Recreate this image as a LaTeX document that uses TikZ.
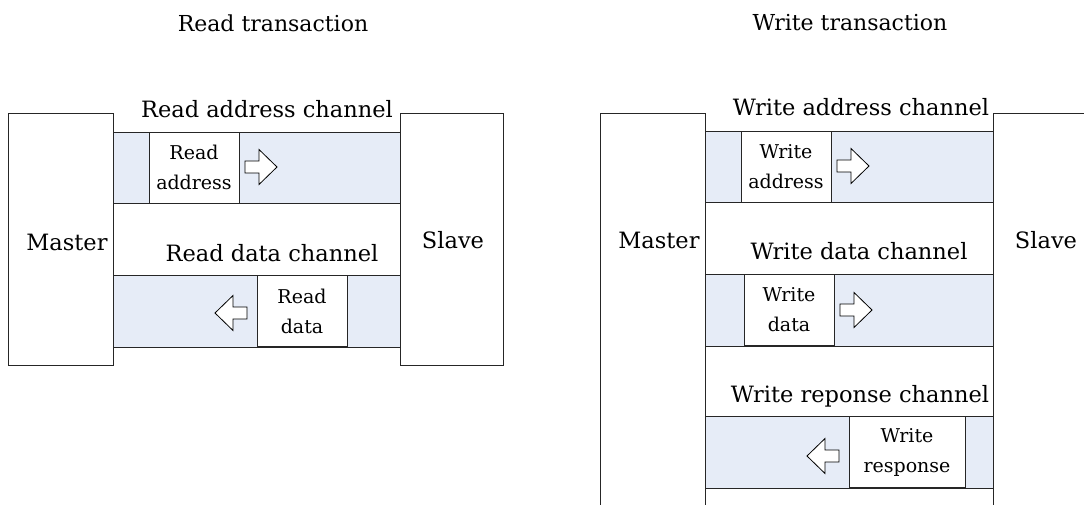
\documentclass[tikz,border=0pt]{standalone}
\usepackage{fontspec}
\setmainfont{DejaVu Serif}
\usetikzlibrary{positioning}
\definecolor{chanfill}{HTML}{E6ECF7}
\tikzset{
  box/.style={draw=black!85, line width=0.8pt},
  band/.style={draw=black!85, line width=0.8pt, fill=chanfill},
  item/.style={draw=black!85, line width=0.8pt, fill=white, align=center,
    font=\fontsize{19}{30}\selectfont, inner sep=0pt,
    minimum width=90pt, minimum height=71pt},
  chan/.style={font=\fontsize{22.5}{26}\selectfont, inner sep=0pt},
  title/.style={font=\fontsize{22}{26}\selectfont, inner sep=0pt},
  blockarrow/.pic={\draw[line width=0.8pt, fill=white] (-16,-6) -- (-2,-6) -- (-2,-17.5)
    -- (16,0) -- (-2,17.5) -- (-2,6) -- (-16,6) -- cycle;}
}

\begin{document}
\begin{tikzpicture}[x=1pt, y=-1pt]
  \useasboundingbox (0,0) rectangle (1084,505);
  \clip (0,0) rectangle (1084,505);

  %%%%% READ %%%%%
  \node[title] (rtitle) at (273,23) {Read transaction};

  \draw[box] (8,113) rectangle (113,365);
  \draw[box] (400,113) rectangle (503,365);
  \node[chan] (rmaster) at (67,242) {Master};
  \node[chan] (rslave) at (453,240) {Slave};

  \draw[band] (113,132) rectangle (400,203);
  \node[item] (raddr) at (194,167.5) {Read\\address};
  \pic (rarr1) at (261,167) {blockarrow};
  \node[chan] (rachan) at (267,109) {Read address channel};

  \draw[band] (113,275) rectangle (400,347);
  \node[item] (rdata) at (302,311) {Read\\data};
  \pic[rotate=180] (rarr2) at (231,313) {blockarrow};
  \node[chan] (rdchan) at (272,253) {Read data channel};

  %%%%% WRITE %%%%%
  \node[title] (wtitle) at (850,23) {Write transaction};

  \draw[box] (600,113) rectangle (705,560);
  \draw[box] (993,113) rectangle (1120,560);
  \node[chan] (wmaster) at (659,240) {Master};
  \node[chan] (wslave) at (1046,240) {Slave};

  \draw[band] (705,131) rectangle (993,202);
  \node[item] (waddr) at (786,166.5) {Write\\address};
  \pic (warr1) at (853,166) {blockarrow};
  \node[chan] (wachan) at (861,107) {Write address channel};

  \draw[band] (705,274) rectangle (993,346);
  \node[item] (wdata) at (789,310) {Write\\data};
  \pic (warr2) at (856,310) {blockarrow};
  \node[chan] (wdchan) at (859,251) {Write data channel};

  \draw[band] (705,416) rectangle (993,488);
  \node[item, minimum width=116pt] (wresp) at (907,452) {Write\\response};
  \pic[rotate=180] (warr3) at (823,456) {blockarrow};
  \node[chan] (wrchan) at (860,396) {Write reponse channel};
\end{tikzpicture}
\end{document}
